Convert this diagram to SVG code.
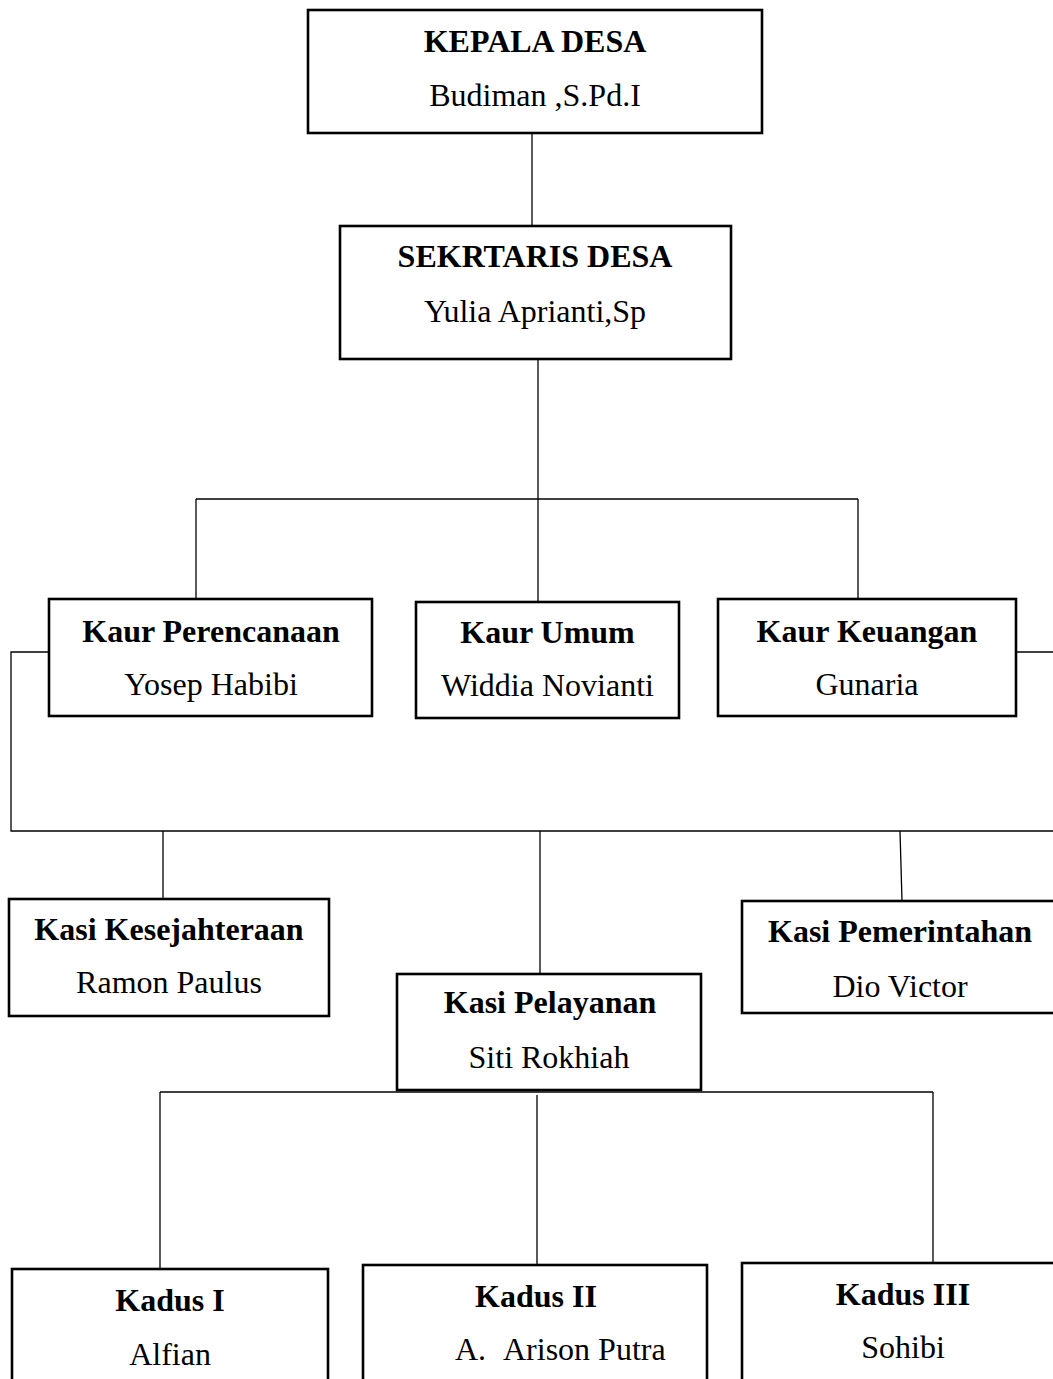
<svg xmlns="http://www.w3.org/2000/svg" width="1053" height="1379" viewBox="0 0 1053 1379">
<style>
  .box { fill: #ffffff; stroke: #000000; stroke-width: 2.6; }
  .ln { fill: none; stroke: #000000; stroke-width: 1.3; }
  .t { font-family: "Liberation Serif", "Times New Roman", serif; font-size: 32px; fill: #000000; text-anchor: middle; }
  .b { font-weight: bold; }
</style>
<rect x="0" y="0" width="1053" height="1379" fill="#ffffff"/>
<g id="connectors">
  <line class="ln" x1="532" y1="133" x2="532" y2="226"/>
  <line class="ln" x1="538" y1="359" x2="538" y2="499"/>
  <line class="ln" x1="196" y1="499" x2="858" y2="499"/>
  <line class="ln" x1="196" y1="499" x2="196" y2="599"/>
  <line class="ln" x1="538" y1="499" x2="538" y2="602"/>
  <line class="ln" x1="858" y1="499" x2="858" y2="599"/>
  <polyline class="ln" points="49,652 11,652 11,831 1053,831"/>
  <line class="ln" x1="1016" y1="652" x2="1053" y2="652"/>
  <line class="ln" x1="163" y1="831" x2="163" y2="899"/>
  <line class="ln" x1="540" y1="831" x2="540" y2="974"/>
  <line class="ln" x1="900" y1="831" x2="902" y2="901"/>
  <line class="ln" x1="160" y1="1092" x2="933" y2="1092"/>
  <line class="ln" x1="160" y1="1092" x2="160" y2="1269"/>
  <line class="ln" x1="537" y1="1095" x2="537" y2="1265"/>
  <line class="ln" x1="933" y1="1092" x2="933" y2="1263"/>
</g>
<g id="kepala-desa">
  <rect class="box" x="308" y="10" width="454" height="123"/>
  <text class="t b" x="535" y="52">KEPALA DESA</text>
  <text class="t" x="535" y="106">Budiman ,S.Pd.I</text>
</g>
<g id="sekretaris-desa">
  <rect class="box" x="340" y="226" width="391" height="133"/>
  <text class="t b" x="535" y="267">SEKRTARIS DESA</text>
  <text class="t" x="535" y="322">Yulia Aprianti,Sp</text>
</g>
<g id="kaur-perencanaan">
  <rect class="box" x="49" y="599" width="323" height="117"/>
  <text class="t b" x="211" y="642">Kaur Perencanaan</text>
  <text class="t" x="211" y="695">Yosep Habibi</text>
</g>
<g id="kaur-umum">
  <rect class="box" x="416" y="602" width="263" height="116"/>
  <text class="t b" x="547.5" y="643">Kaur Umum</text>
  <text class="t" x="547.5" y="696">Widdia Novianti</text>
</g>
<g id="kaur-keuangan">
  <rect class="box" x="718" y="599" width="298" height="117"/>
  <text class="t b" x="867" y="642">Kaur Keuangan</text>
  <text class="t" x="867" y="695">Gunaria</text>
</g>
<g id="kasi-kesejahteraan">
  <rect class="box" x="9" y="899" width="320" height="117"/>
  <text class="t b" x="169" y="940">Kasi Kesejahteraan</text>
  <text class="t" x="169" y="993">Ramon Paulus</text>
</g>
<g id="kasi-pemerintahan">
  <rect class="box" x="742" y="901" width="318" height="112"/>
  <text class="t b" x="900" y="942">Kasi Pemerintahan</text>
  <text class="t" x="900" y="997">Dio Victor</text>
</g>
<g id="kasi-pelayanan">
  <rect class="box" x="397" y="974" width="304" height="116"/>
  <text class="t b" x="550" y="1013">Kasi Pelayanan</text>
  <text class="t" x="549" y="1068">Siti Rokhiah</text>
</g>
<g id="kadus-1">
  <rect class="box" x="12" y="1269" width="316" height="130"/>
  <text class="t b" x="170" y="1311">Kadus I</text>
  <text class="t" x="170" y="1365">Alfian</text>
</g>
<g id="kadus-2">
  <rect class="box" x="363" y="1265" width="344" height="134"/>
  <text class="t b" x="536" y="1307">Kadus II</text>
  <text class="t" x="455" y="1360" style="text-anchor:start">A.<tspan x="503">Arison Putra</tspan></text>
</g>
<g id="kadus-3">
  <rect class="box" x="742" y="1263" width="322" height="136"/>
  <text class="t b" x="903" y="1305">Kadus III</text>
  <text class="t" x="903" y="1358">Sohibi</text>
</g>
</svg>
